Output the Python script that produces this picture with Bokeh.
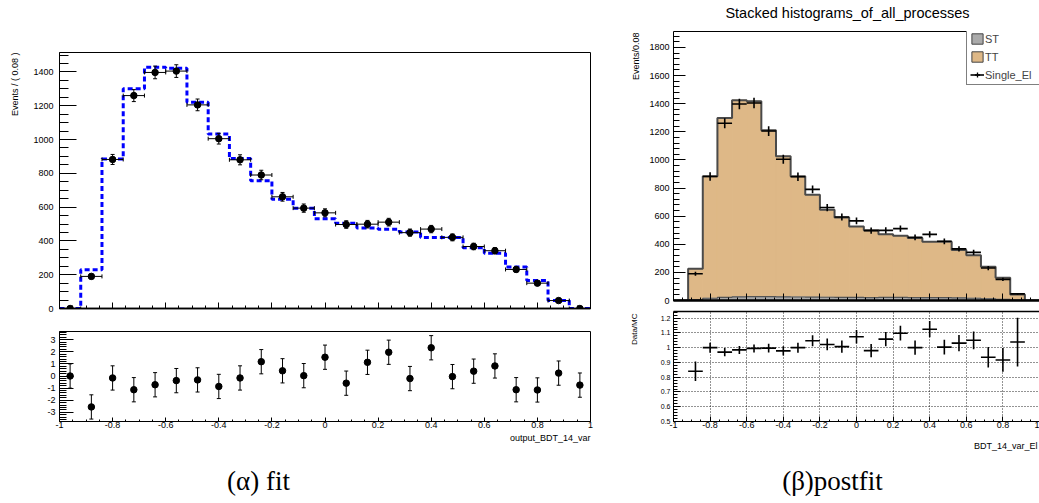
import math
import numpy as np
from bokeh.plotting import figure
from bokeh.models import (Range1d, LinearAxis, FixedTicker, Whisker, TeeHead,
                          Legend, LegendItem, ColumnDataSource, CustomJSTickFormatter)
from bokeh.layouts import row, column
from bokeh.core.properties import value
from bokeh.embed import file_html
from bokeh.resources import INLINE

# ---------------- data ----------------
bin_centers = [-0.96, -0.88, -0.80, -0.72, -0.64, -0.56, -0.48, -0.40, -0.32, -0.24, -0.16, -0.08,
               0.00, 0.08, 0.16, 0.24, 0.32, 0.40, 0.48, 0.56, 0.64, 0.72, 0.80, 0.88, 0.96]
bin_width = 0.08

data_counts = [0, 190, 882, 1260, 1397, 1405, 1205, 1005, 880, 790, 661, 594,
               566, 497, 499, 511, 449, 470, 421, 367, 342, 231, 150, 47, 0]
data_err = [0, 13.8, 29.7, 35.5, 37.4, 37.5, 34.7, 31.7, 29.7, 28.1, 25.7, 24.4,
            23.8, 22.3, 22.3, 22.6, 21.2, 21.7, 20.5, 19.2, 18.5, 15.2, 12.2, 6.9, 0]

fit_counts = [0, 230, 885, 1301, 1428, 1422, 1220, 1032, 887, 756, 646, 594,
              531, 505, 477, 469, 453, 420, 420, 360, 327, 246, 166, 48, 0]

st_counts = [0, 6, 16, 22, 26, 28, 27, 26, 25, 24, 23, 22,
             22, 21, 22, 22, 21, 21, 20, 18, 16, 12, 8, 4, 0]
tt_counts = [0, 220, 867, 1276, 1398, 1389, 1183, 1000, 858, 728, 622, 568,
             504, 479, 449, 438, 424, 396, 397, 342, 305, 228, 154, 39, 0]

pull_vals = [0.0, -2.55, -0.16, -1.13, -0.72, -0.38, -0.32, -0.86, -0.16, 1.18, 0.43, 0.03,
             1.55, -0.59, 1.13, 1.96, -0.21, 2.33, -0.05, 0.40, 0.83, -1.13, -1.15, 0.24, -0.75]
pull_err = [1.0] * 25

ratio_vals = [None, 0.84, 1.0, 0.97, 0.985, 0.995, 0.997, 0.978, 1.0, 1.047, 1.022, 1.007,
              1.074, 0.98, 1.058, 1.098, 1.0, 1.125, 1.004, 1.031, 1.05, 0.935, 0.917, 1.038, None]
ratio_err = [None, 0.066, 0.034, 0.028, 0.027, 0.027, 0.029, 0.031, 0.034, 0.037, 0.040, 0.041,
             0.045, 0.045, 0.048, 0.050, 0.048, 0.055, 0.050, 0.055, 0.060, 0.070, 0.080, 0.165, None]

x_ticks = [-1.0, -0.8, -0.6, -0.4, -0.2, 0.0, 0.2, 0.4, 0.6, 0.8, 1.0]
main_y_ticks = [0, 200, 400, 600, 800, 1000, 1200, 1400]
stack_y_ticks = [0, 200, 400, 600, 800, 1000, 1200, 1400, 1600, 1800]
pull_y_ticks = [-3, -2, -1, 0, 1, 2, 3]
ratio_y_ticks = [0.5, 0.6, 0.7, 0.8, 0.9, 1.0, 1.1, 1.2]

FONT = "Liberation Sans"
SERIF = "Liberation Serif"
TT_COLOR = "#deb887"
ST_COLOR = "#aaaaaa"

# ---------------- arrays ----------------
c = np.array(bin_centers)
lo = c - bin_width / 2
hi = c + bin_width / 2
edges = np.append(lo, hi[-1])
data = np.array(data_counts, dtype=float)
derr = np.array(data_err, dtype=float)
fit = np.array(fit_counts, dtype=float)
st = np.array(st_counts, dtype=float)
tt = np.array(tt_counts, dtype=float)
tot = st + tt
pull = np.array(pull_vals, dtype=float)
perr = np.array(pull_err, dtype=float)
ratio = np.array([np.nan if v is None else v for v in ratio_vals])
rerr = np.array([np.nan if v is None else v for v in ratio_err])


def fmt():
    return CustomJSTickFormatter(code="return Number(tick.toFixed(4)).toString();")


def minor(a, b, step):
    n = int(round((b - a) / step))
    return [round(a + i * step, 4) for i in range(n + 1)]


def style(ax, ticks, minors, tin, mtin, fs, standoff=3, width=1):
    ax.ticker = FixedTicker(ticks=ticks, minor_ticks=minors)
    ax.major_tick_in = tin
    ax.major_tick_out = 0
    ax.minor_tick_in = mtin
    ax.minor_tick_out = 0
    ax.major_label_text_font = FONT
    ax.major_label_text_font_size = fs
    ax.major_label_text_color = "black"
    ax.major_label_standoff = standoff
    ax.formatter = fmt()
    ax.axis_line_color = "black"
    ax.axis_line_width = width
    ax.major_tick_line_color = "black"
    ax.minor_tick_line_color = "black"


def tick_only_axis(ax, positions, length, width=1):
    """An axis that draws inward ticks only (no labels)."""
    ax.ticker = FixedTicker(ticks=[], minor_ticks=positions)
    ax.major_tick_in = 0
    ax.major_tick_out = 0
    ax.minor_tick_in = length
    ax.minor_tick_out = 0
    ax.major_label_standoff = 0
    ax.axis_line_color = "black"
    ax.axis_line_width = width
    ax.minor_tick_line_color = "black"


def bare_axis(fig, side, width=1):
    ax = LinearAxis()
    tick_only_axis(ax, [], 0, width)
    fig.add_layout(ax, side)
    return ax


def text_fig(w, h, items):
    """A plain strip whose frame fills it; items: (x, y_from_top, text, size, align, angle, font)."""
    f = figure(width=w, height=h, x_range=Range1d(0, w), y_range=Range1d(0, h),
               min_border=0, x_axis_location=None, y_axis_location=None,
               output_backend="svg", toolbar_location=None)
    f.outline_line_color = None
    f.grid.visible = False
    f.background_fill_color = "white"
    for (x, y, t, size, align, angle, font) in items:
        f.text(x=[x], y=[h - y], text=[t], angle=angle, text_align=align,
               text_baseline="middle", text_font=value(font), text_font_size=value(size),
               text_color="black")
    return f


x_minor = minor(-1, 1, 0.05)

# ================= top strip (title) =================
top = text_fig(1039, 28, [(847, 12, "Stacked histograms_of_all_processes", "14.5px",
                           "center", 0, FONT)])

# ================= left: fit =================
p1 = figure(width=596, height=290, x_range=Range1d(-1, 1), y_range=Range1d(0, 1515),
            min_border_left=35, min_border_right=30, min_border_top=24, min_border_bottom=10,
            output_backend="svg", toolbar_location=None)
p1.grid.visible = False
p1.outline_line_color = "black"
p1.outline_line_width = 1
tick_only_axis(p1.xaxis[0], x_minor, 3, 1.5)
ax1b = LinearAxis()
tick_only_axis(ax1b, x_ticks, 6, 1.5)
p1.add_layout(ax1b, "below")
style(p1.yaxis[0], main_y_ticks, minor(0, 1500, 50), 17, 9, "9px", standoff=6)

p1.step(edges, np.append(fit, fit[-1]), mode="after", line_color="#0000ff",
        line_width=3, line_dash="5 3")

src1 = ColumnDataSource(dict(x=c, y=data, yl=data - derr, yu=data + derr, xl=lo, xr=hi))
for dim, base, lower, upper in (("height", "x", "yl", "yu"), ("width", "y", "xl", "xr")):
    p1.add_layout(Whisker(source=src1, base=base, lower=lower, upper=upper, dimension=dim,
                          line_color="black", line_width=1, level="annotation",
                          lower_head=TeeHead(size=4, line_color="black", line_width=1),
                          upper_head=TeeHead(size=4, line_color="black", line_width=1)))
p1.scatter("x", "y", source=src1, size=6.5, fill_color="black", line_color="black")

p2 = figure(width=596, height=114, x_range=Range1d(-1, 1), y_range=Range1d(-3.75, 3.67),
            min_border_left=35, min_border_right=30, min_border_top=13, min_border_bottom=11,
            output_backend="svg", toolbar_location=None)
p2.grid.visible = False
p2.outline_line_color = "black"
p2.outline_line_width = 1
style(p2.xaxis[0], x_ticks, x_minor, 4, 2, "9px", standoff=0)
style(p2.yaxis[0], pull_y_ticks, minor(-3.6, 3.6, 0.2), 14, 7, "9px", standoff=4)
src2 = ColumnDataSource(dict(x=c, y=pull, yl=pull - perr, yu=pull + perr))
p2.add_layout(Whisker(source=src2, base="x", lower="yl", upper="yu", dimension="height",
                      line_color="black", line_width=1, level="annotation",
                      lower_head=TeeHead(size=4, line_color="black", line_width=1),
                      upper_head=TeeHead(size=4, line_color="black", line_width=1)))
p2.scatter("x", "y", source=src2, size=6.5, fill_color="black", line_color="black")

stripL = text_fig(24, 404, [(14, 24, "Events / ( 0.08 )", "9px", "right", math.pi / 2, FONT)])

# ================= right: postfit =================
p3 = figure(width=395, height=277, x_range=Range1d(-1, 1), y_range=Range1d(0, 1913),
            min_border_left=29, min_border_right=0, min_border_top=3, min_border_bottom=5,
            output_backend="svg", toolbar_location=None)
p3.grid.visible = False
p3.outline_line_color = None
tick_only_axis(p3.xaxis[0], x_minor, 3, 2)
ax3b = LinearAxis()
tick_only_axis(ax3b, x_ticks, 7, 2)
p3.add_layout(ax3b, "below")
style(p3.yaxis[0], stack_y_ticks, minor(0, 1880, 40), 12, 6, "9px", standoff=4)
bare_axis(p3, "above", 1)

p3.quad(left=lo, right=hi, bottom=st, top=tot, fill_color=TT_COLOR, line_color=TT_COLOR,
        line_width=1)
p3.quad(left=lo, right=hi, bottom=0, top=st, fill_color=ST_COLOR, line_color=ST_COLOR,
        line_width=1)
p3.step(edges, np.append(tot, tot[-1]), mode="after", line_color="#4a4a4a", line_width=2)
p3.step(edges, np.append(st, st[-1]), mode="after", line_color="#555555", line_width=1.2)
hseg = p3.segment(x0=lo, y0=data, x1=hi, y1=data, line_color="black", line_width=1.6)
p3.segment(x0=c, y0=data - derr, x1=c, y1=data + derr, line_color="black", line_width=1.6)

nan1 = [np.nan]
st_leg = p3.quad(left=nan1, right=nan1, top=nan1, bottom=nan1, fill_color=ST_COLOR,
                 line_color="#444444", line_width=1)
tt_leg = p3.quad(left=nan1, right=nan1, top=nan1, bottom=nan1, fill_color=TT_COLOR,
                 line_color="#444444", line_width=1)
cr_leg = p3.scatter(x=nan1, y=nan1, marker="cross", line_color="black", line_width=1.3)
legend = Legend(items=[LegendItem(label="ST", renderers=[st_leg]),
                       LegendItem(label="TT", renderers=[tt_leg]),
                       LegendItem(label="Single_El", renderers=[hseg, cr_leg])],
                location=(293, 215), padding=3, spacing=5, margin=0,
                glyph_width=14, glyph_height=13, label_height=13, label_width=70,
                label_standoff=1, label_text_font=FONT, label_text_font_size="11px",
                border_line_color="black", border_line_width=1,
                background_fill_color="white", background_fill_alpha=1.0)
p3.add_layout(legend)

p4 = figure(width=395, height=127, x_range=Range1d(-1, 1), y_range=Range1d(0.5, 1.245),
            min_border_left=29, min_border_right=0, min_border_top=6, min_border_bottom=11,
            output_backend="svg", toolbar_location=None)
p4.outline_line_color = None
style(p4.xaxis[0], x_ticks, x_minor, 5, 2, "9px", standoff=0, width=1)
style(p4.yaxis[0], ratio_y_ticks, minor(0.5, 1.24, 0.02), 7, 4, "7px", standoff=3)
bare_axis(p4, "above", 1.5)
p4.xgrid.ticker = FixedTicker(ticks=x_ticks)
p4.ygrid.ticker = FixedTicker(ticks=ratio_y_ticks)
for g in (p4.xgrid[0], p4.ygrid[0]):
    g.grid_line_color = "black"
    g.grid_line_dash = "1 2"
    g.grid_line_width = 1
    g.grid_line_alpha = 0.85
p4.segment(x0=lo, y0=ratio, x1=hi, y1=ratio, line_color="black", line_width=1.6)
p4.segment(x0=c, y0=ratio - rerr, x1=c, y1=ratio + rerr, line_color="black", line_width=1.6)

stripR = text_fig(24, 404, [(15, 4, "Events/0.08", "9px", "right", math.pi / 2, FONT),
                            (14, 285, "Data/MC", "8px", "right", math.pi / 2, FONT)])

bottom = text_fig(1039, 71, [(590, 5, "output_BDT_14_var", "9px", "right", 0, FONT),
                             (1037, 13, "BDT_14_var_El", "9px", "right", 0, FONT),
                             (258, 48, "(\u03b1) fit", "27px", "center", 0, SERIF),
                             (832, 48, "(\u03b2)postfit", "27px", "center", 0, SERIF)])

layout = column(
    top,
    row(stripL, column(p1, p2, spacing=0), stripR, column(p3, p4, spacing=0), spacing=0),
    bottom, spacing=0)
open("out.html", "w").write(file_html(layout, INLINE))
